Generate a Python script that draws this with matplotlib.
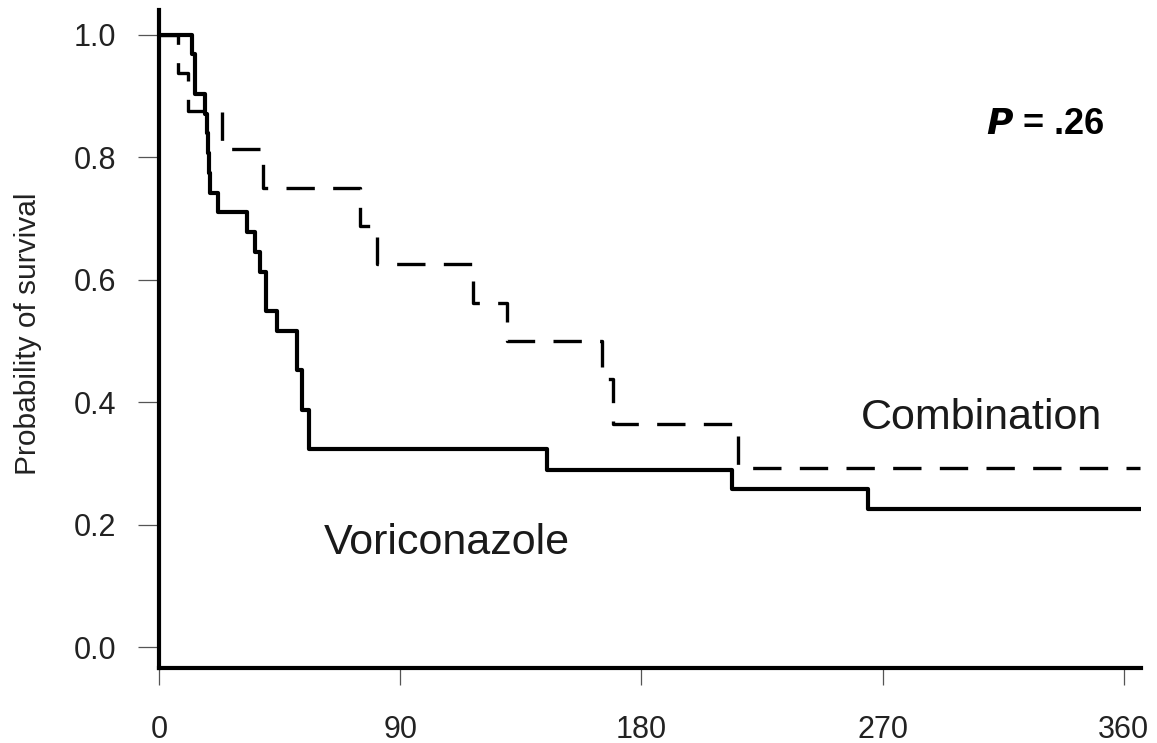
import numpy as np
import matplotlib
matplotlib.use("Agg")
import matplotlib.pyplot as plt

plt.rcParams['font.family'] = ['Liberation Sans', 'DejaVu Sans']

# Kaplan-Meier steps (days, survival)
vori_t = [0, 12.3, 13.4, 17.2, 17.9, 18.4, 18.8, 19.1, 22, 32.8, 35.8, 37.7, 39.9,
          44, 51.5, 53.4, 56, 144.8, 213.8, 264.6, 366]
vori_s = [1.0, 0.968, 0.903, 0.871, 0.839, 0.806, 0.774, 0.742, 0.710, 0.677, 0.645,
          0.613, 0.548, 0.516, 0.452, 0.387, 0.323, 0.290, 0.258, 0.226, 0.226]

comb_t = [0, 7.1, 10.8, 23.5, 38.8, 75, 81.3, 117.2, 129.9, 165.3, 169.4, 216, 366]
comb_s = [1.0, 0.9375, 0.875, 0.8125, 0.75, 0.6875, 0.625, 0.5625, 0.5, 0.4375,
          0.365, 0.292, 0.292]

x_ticks = [0, 90, 180, 270, 360]
y_ticks = [0.0, 0.2, 0.4, 0.6, 0.8, 1.0]
y_labels = ["0.0", "0.2", "0.4", "0.6", "0.8", "1.0"]

fig = plt.figure(figsize=(11.57, 7.43), dpi=100)
ax = fig.add_axes([0.1374, 0.1009, 0.8487, 0.8856])

ax.step(comb_t, comb_s, where='post', color='black', lw=2.4,
        linestyle=(0, (8.5, 5.5)))
ax.step(vori_t, vori_s, where='post', color='black', lw=3)

ax.set_xlim(0, 366.4)
ax.set_ylim(-0.034, 1.04)

ax.spines['top'].set_visible(False)
ax.spines['right'].set_visible(False)
ax.spines['left'].set_linewidth(3)
ax.spines['bottom'].set_linewidth(3)

ax.set_xticks(x_ticks)
ax.set_xticklabels([str(t) for t in x_ticks])
ax.set_yticks(y_ticks)
ax.set_yticklabels(y_labels)
ax.tick_params(axis='x', direction='out', length=12, width=0.9, color='#555555',
               pad=22, labelsize=22, labelcolor='#222222')
ax.tick_params(axis='y', direction='out', length=15, width=0.9, color='#555555',
               pad=16, labelsize=22, labelcolor='#222222')

# y label placed by hand, like the original
fig.text(28 / 1157, 1 - 334 / 743, "Probability of survival", fontsize=21.5,
         color='#222222', rotation=90, ha='center', va='center')

ax.text(330.6, 0.853, r"$\bfit{P}$" + " = .26", fontsize=26, fontweight='bold',
        ha='center', va='center')
ax.text(307, 0.374, "Combination", fontsize=31, ha='center', va='center',
        color='#1a1a1a')
ax.text(107.5, 0.17, "Voriconazole", fontsize=31, ha='center', va='center',
        color='#1a1a1a')

fig.savefig("out.png", dpi=100)
